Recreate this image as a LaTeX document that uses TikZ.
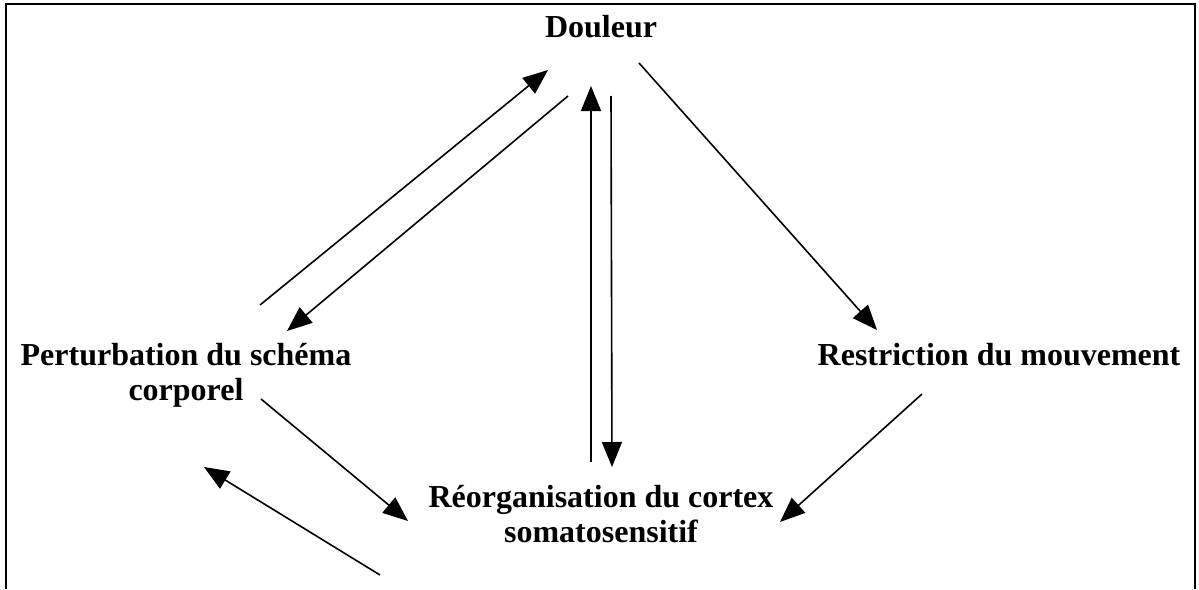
\documentclass[tikz,border=0pt]{standalone}
\usepackage{fontspec}
\setmainfont{Liberation Serif}
\usetikzlibrary{arrows.meta}
\tikzset{
  lbl/.style={font=\fontsize{32}{35}\selectfont\bfseries, inner sep=0pt, align=center},
  arr/.style={line width=1.6pt, -{Triangle[length=25pt,width=20pt]}},
  frame/.style={line width=2pt}
}
\begin{document}
\begin{tikzpicture}[x=1pt,y=-1pt]
\useasboundingbox (0,0) rectangle (1199,589);
\draw[frame] (6,589) -- (6,4) -- (1195,4) -- (1195,589);
% nodes
\node[lbl, anchor=base] (doul) at (601,37) {Douleur};
\node[lbl, anchor=base] (restr) at (999,365) {Restriction du mouvement};
\node[lbl] (pert) at (186,375) {Perturbation du schéma\\corporel};
\node[lbl] (reorg) at (601,514) {Réorganisation du cortex\\somatosensitif};
% connector end points
\coordinate (p1a) at (260,305);  \coordinate (p1b) at (548,70);
\coordinate (p2a) at (568,96);   \coordinate (p2b) at (287,331);
\coordinate (r1a) at (591,462);  \coordinate (r1b) at (591,86);
\coordinate (r2a) at (611,96);   \coordinate (r2b) at (612,467);
\coordinate (d1a) at (639,63);   \coordinate (d1b) at (877,330);
\coordinate (m1a) at (922,394);  \coordinate (m1b) at (780,522);
\coordinate (c1a) at (261,399);  \coordinate (c1b) at (408,521);
\coordinate (c2a) at (380,575);  \coordinate (c2b) at (204,467);
% connectors
\draw[arr] (p1a) -- (p1b);
\draw[arr] (p2a) -- (p2b);
\draw[arr] (r1a) -- (r1b);
\draw[arr] (r2a) -- (r2b);
\draw[arr] (d1a) -- (d1b);
\draw[arr] (m1a) -- (m1b);
\draw[arr] (c1a) -- (c1b);
\draw[arr] (c2a) -- (c2b);
\end{tikzpicture}
\end{document}
